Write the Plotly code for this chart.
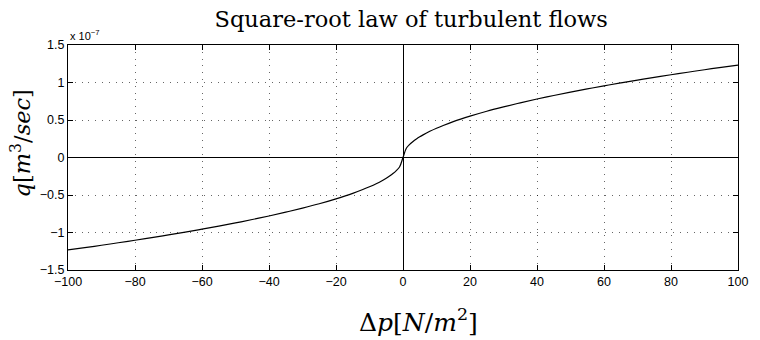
import plotly.graph_objects as go

# Pressure drop across the orifice [N/m^2]
dp = [-100, -95, -90, -85, -80, -75, -70, -65, -60, -55, -50, -45, -40, -35,
      -30, -25, -20, -15, -12, -10, -8, -6, -5, -4, -3, -2, -1, 0,
      1, 2, 3, 4, 5, 6, 8, 10, 12, 15, 20, 25, 30, 35, 40, 45, 50, 55,
      60, 65, 70, 75, 80, 85, 90, 95, 100]

# Flow rate [x 1e-7 m^3/sec]
q = [-1.233, -1.202, -1.170, -1.137, -1.103, -1.068, -1.032, -0.994, -0.955,
     -0.914, -0.872, -0.827, -0.780, -0.729, -0.675, -0.617, -0.551, -0.478,
     -0.427, -0.390, -0.349, -0.302, -0.276, -0.247, -0.214, -0.174, -0.123, 0.0,
     0.123, 0.174, 0.214, 0.247, 0.276, 0.302, 0.349, 0.390, 0.427, 0.478,
     0.551, 0.617, 0.675, 0.729, 0.780, 0.827, 0.872, 0.914, 0.955, 0.994,
     1.032, 1.068, 1.103, 1.137, 1.170, 1.202, 1.233]

x_ticks = [-100, -80, -60, -40, -20, 0, 20, 40, 60, 80, 100]
x_tick_text = ["\u2212100", "\u221280", "\u221260", "\u221240", "\u221220",
               "0", "20", "40", "60", "80", "100"]
y_ticks = [-1.5, -1.0, -0.5, 0.0, 0.5, 1.0, 1.5]
y_tick_text = ["\u22121.5", "\u22121", "\u22120.5", "0", "0.5", "1", "1.5"]

serif = "DejaVu Serif"
sans = "Liberation Sans"

fig = go.Figure()
fig.add_trace(go.Scatter(x=dp, y=q, mode="lines", line=dict(color="black", width=1.2),
                         line_shape="spline", showlegend=False, hoverinfo="skip"))

axis_common = dict(
    showline=True, linecolor="black", linewidth=1, mirror="ticks",
    ticks="inside", ticklen=5, tickcolor="black", tickwidth=1,
    showgrid=True, gridcolor="rgba(0,0,0,0.6)", griddash="1px,5.8px", gridwidth=1,
    zeroline=True, zerolinecolor="black", zerolinewidth=1,
    tickfont=dict(family=sans, size=12.5, color="black"),
)

fig.update_xaxes(range=[-100, 100], tickvals=x_ticks, ticktext=x_tick_text, **axis_common)
fig.update_yaxes(range=[-1.5, 1.5], tickvals=y_ticks, ticktext=y_tick_text, **axis_common)

fig.update_layout(
    width=760, height=340,
    margin=dict(l=68, r=13, t=45, b=70),
    paper_bgcolor="white", plot_bgcolor="white",
    title=dict(text="Square-root law of turbulent flows", x=0.541, xanchor="center",
               y=0.945, yanchor="middle", yref="container",
               font=dict(family=serif, size=22.5, color="black")),
    annotations=[
        dict(text="x 10<sup>\u22127</sup>", xref="paper", yref="paper", x=0.0, y=1.0,
             xanchor="left", yanchor="bottom", showarrow=False, yshift=1,
             font=dict(family=sans, size=11, color="black")),
        dict(text="\u0394<i>p</i>[<i>N</i>/<i>m</i><sup>2</sup>]", xref="paper",
             yref="paper", x=0.5, y=0, xshift=15, yshift=-50, xanchor="center",
             yanchor="middle", showarrow=False,
             font=dict(family=serif, size=25, color="black")),
        dict(text="<i>q</i>[<i>m</i><sup>3</sup>/<i>sec</i>]", xref="paper",
             yref="paper", x=0, xshift=-48, y=0.5, yshift=14, xanchor="center",
             yanchor="middle", textangle=-90, showarrow=False,
             font=dict(family=serif, size=22.5, color="black")),
    ],
)

fig.write_html("out.html")
